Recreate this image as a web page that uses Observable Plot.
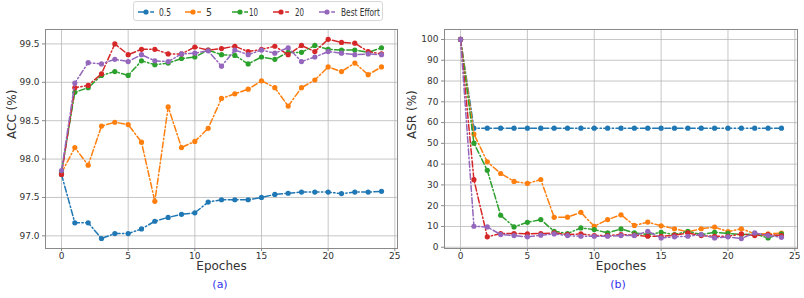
<!DOCTYPE html>
<html>
<head>
<meta charset="utf-8">
<script src="https://cdn.jsdelivr.net/npm/d3@7"></script>
<script src="https://cdn.jsdelivr.net/npm/@observablehq/plot@0.6"></script>
<style>
  body { margin: 0; background: #fff; font-family: "DejaVu Sans", sans-serif; }
  #wrap { position: relative; width: 804px; height: 298px; overflow: hidden; }
  .panel { position: absolute; top: 0; }
  #legendBox { position: absolute; left: 133px; top: 1px; width: 250px; height: 20px;
    border: 1px solid #d8d8d8; border-radius: 3px; background: #fff; box-sizing: border-box; }
  #legend { position: absolute; left: 0; top: 0; width: 248px; height: 18px; overflow: visible; }
  .cap { position: absolute; top: 278px; font-size: 11px; color: #3333ee; transform: translateX(-50%); }
</style>
</head>
<body>
<div id="wrap">
  <div id="left" class="panel" style="left:0"></div>
  <div id="right" class="panel" style="left:400px"></div>
  <div id="legendBox"><svg id="legend"></svg></div>
  <div class="cap" style="left:220px">(a)</div>
  <div class="cap" style="left:618px">(b)</div>
</div>
<script>
// ---- data ----
const epochs = [0,1,2,3,4,5,6,7,8,9,10,11,12,13,14,15,16,17,18,19,20,21,22,23,24];
const seriesNames = ["0.5", "5", "10", "20", "Best Effort"];
const seriesColors = ["#1f77b4", "#ff7f0e", "#2ca02c", "#d62728", "#9467bd"];

const acc05 = [97.80,97.17,97.17,96.965,97.03,97.03,97.09,97.19,97.24,97.28,97.30,97.44,97.47,97.47,97.47,97.50,97.54,97.555,97.57,97.57,97.57,97.55,97.57,97.57,97.58];
const acc5  = [97.82,98.15,97.92,98.43,98.48,98.45,98.22,97.45,98.68,98.15,98.23,98.40,98.79,98.85,98.91,99.02,98.93,98.69,98.93,99.03,99.20,99.14,99.25,99.10,99.20];
const acc10 = [97.83,98.87,98.93,99.09,99.14,99.09,99.28,99.23,99.25,99.31,99.33,99.42,99.36,99.35,99.24,99.33,99.30,99.39,99.39,99.48,99.43,99.42,99.42,99.39,99.45];
const acc20 = [97.80,98.93,98.96,99.11,99.50,99.36,99.43,99.43,99.37,99.37,99.46,99.42,99.44,99.47,99.40,99.43,99.47,99.36,99.48,99.40,99.56,99.52,99.51,99.40,99.37];
const accBE = [97.85,98.99,99.256,99.24,99.30,99.27,99.36,99.28,99.27,99.37,99.38,99.41,99.21,99.42,99.36,99.42,99.38,99.45,99.27,99.33,99.40,99.38,99.36,99.37,99.36];

const asr05 = [100,57.3,57.3,57.3,57.3,57.3,57.3,57.3,57.3,57.3,57.3,57.3,57.3,57.3,57.3,57.3,57.3,57.3,57.3,57.3,57.3,57.3,57.3,57.3,57.3];
const asr5  = [100,54.5,41.1,35.5,31.7,30.7,32.6,14.4,14.5,16.8,10.1,13.3,15.6,10.5,12.1,10.3,8.9,7.4,8.9,9.7,7.5,8.9,6.5,6.4,6.8];
const asr10 = [100,50.1,37.0,15.4,9.8,12.0,13.3,7.7,6.6,9.3,8.5,6.9,8.8,6.9,6.1,7.2,6.1,7.7,6.1,7.2,6.7,6.1,6.4,4.5,6.4];
const asr20 = [100,32.5,5.0,6.6,6.6,6.5,6.6,6.9,6.1,6.4,5.6,5.6,6.1,5.8,5.3,5.3,5.8,6.9,5.6,5.3,5.3,6.4,5.6,6.1,5.6];
const asrBE = [100,10.1,9.8,6.1,5.6,5.0,5.8,6.4,5.6,5.3,5.3,5.3,5.6,5.6,7.7,4.5,5.0,5.3,6.1,4.5,5.0,4.2,6.9,5.6,4.8];

const xTicks = [0,5,10,15,20,25];
const accTicks = [97.0,97.5,98.0,98.5,99.0,99.5];
const asrTicks = [0,10,20,30,40,50,60,70,80,90,100];

function tidy(arrays) {
  const rows = [];
  arrays.forEach((arr, i) => arr.forEach((v, j) => rows.push({epoch: epochs[j], value: v, series: seriesNames[i]})));
  return rows;
}
const accData = tidy([acc05, acc5, acc10, acc20, accBE]);
const asrData = tidy([asr05, asr5, asr10, asr20, asrBE]);

const dash = "6,2.4,1.4,2.4";
const font = "DejaVu Sans, sans-serif";

function panel(data, opts) {
  const marks = [
    Plot.gridX(xTicks, {stroke: "#b8b8b8", strokeOpacity: 1, strokeWidth: 0.8}),
    Plot.gridY(opts.yTicks, {stroke: "#b8b8b8", strokeOpacity: 1, strokeWidth: 0.8}),
    Plot.frame({stroke: "#8a8a8a", strokeWidth: 1}),
    Plot.axisX(xTicks, {tickSize: 3, tickPadding: 1, fontSize: 9, fill: "#333", stroke: "#8a8a8a", label: null}),
    Plot.axisY(opts.yTicks, {tickSize: 3, tickPadding: 3, fontSize: 9, fill: "#333", stroke: "#8a8a8a", label: null, tickFormat: opts.fmt}),
    Plot.text(["Epoches"], {frameAnchor: "bottom", dy: 21, fontSize: 12, fill: "#333"}),
    Plot.text([opts.ylabel], {frameAnchor: "left", dx: opts.ylabelDx, rotate: -90, fontSize: 12, fill: "#333"})
  ];
  seriesNames.forEach((name, i) => {
    const d = data.filter(r => r.series === name);
    marks.push(Plot.line(d, {x: "epoch", y: "value", stroke: seriesColors[i], strokeWidth: 1.5, strokeDasharray: dash}));
    marks.push(Plot.dot(d, {x: "epoch", y: "value", fill: seriesColors[i], r: 2.6, stroke: "none"}));
  });
  return Plot.plot({
    width: opts.width, height: 298,
    marginLeft: opts.ml, marginRight: opts.mr, marginTop: 29, marginBottom: 50,
    style: {fontFamily: font, background: "transparent", overflow: "visible"},
    x: {domain: [-1.2, 25.2]},
    y: {domain: opts.yDomain},
    marks
  });
}

document.getElementById("left").appendChild(panel(accData, {
  width: 400, ml: 45, mr: 3, yDomain: [96.835, 99.688], yTicks: accTicks,
  fmt: d => d.toFixed(1), ylabel: "ACC (%)", ylabelDx: -33
}));
document.getElementById("right").appendChild(panel(asrData, {
  width: 404, ml: 44, mr: 7, yDomain: [-0.6, 104.8], yTicks: asrTicks,
  fmt: d => String(d), ylabel: "ASR (%)", ylabelDx: -32
}));

// legend
const lg = d3.select("#legend");
const items = [
  {x: 4, tx: 25, tw: 12},
  {x: 51, tx: 72, tw: 6},
  {x: 98, tx: 115, tw: 9},
  {x: 139, tx: 161, tw: 9},
  {x: 185, tx: 207, tw: 39}
];
seriesNames.forEach((name, i) => {
  const it = items[i];
  lg.append("line").attr("x1", it.x).attr("x2", it.x + 16).attr("y1", 10).attr("y2", 10)
    .attr("stroke", seriesColors[i]).attr("stroke-width", 1.5).attr("stroke-dasharray", dash);
  lg.append("circle").attr("cx", it.x + 8).attr("cy", 10).attr("r", 2.6).attr("fill", seriesColors[i]);
  lg.append("text").attr("x", it.tx).attr("y", 10).attr("dy", "0.35em")
    .attr("font-size", 10.5).attr("font-family", "'DejaVu Sans', sans-serif")
    .attr("textLength", it.tw).attr("lengthAdjust", "spacingAndGlyphs")
    .attr("fill", "#333").text(name);
});
</script>
</body>
</html>
